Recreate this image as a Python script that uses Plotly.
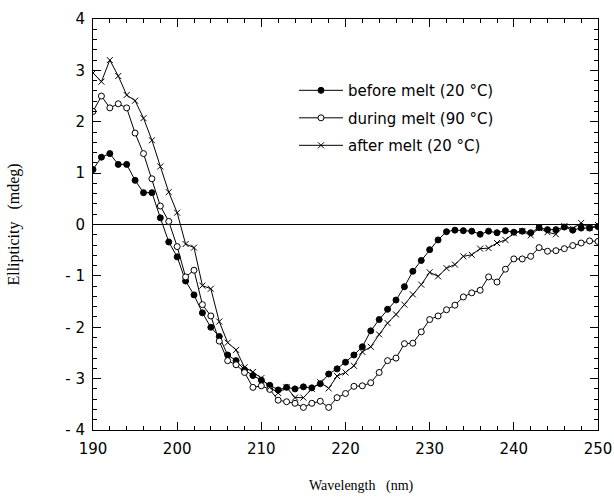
import plotly.graph_objects as go

wavelength = list(range(190, 251))

before_melt = [1.07, 1.31, 1.38, 1.17, 1.17, 0.86, 0.62, 0.62, 0.13, -0.34,
               -0.63, -1.10, -1.37, -1.72, -2.00, -2.18, -2.54, -2.65, -2.83, -2.94,
               -3.03, -3.13, -3.22, -3.17, -3.20, -3.16, -3.18, -3.10, -2.91, -2.81,
               -2.68, -2.54, -2.38, -2.07, -1.85, -1.65, -1.47, -1.21, -0.91, -0.70,
               -0.49, -0.30, -0.14, -0.11, -0.12, -0.13, -0.19, -0.13, -0.16, -0.12,
               -0.15, -0.13, -0.16, -0.06, -0.10, -0.10, -0.05, -0.11, -0.07, -0.07,
               -0.04]

during_melt = [2.20, 2.50, 2.27, 2.35, 2.27, 1.78, 1.38, 0.89, 0.36, 0.06,
               -0.43, -1.02, -0.89, -1.56, -1.78, -2.27, -2.65, -2.73, -2.88, -3.17,
               -3.14, -3.21, -3.42, -3.45, -3.48, -3.56, -3.48, -3.44, -3.56, -3.37,
               -3.29, -3.15, -3.14, -3.08, -2.88, -2.65, -2.60, -2.32, -2.31, -2.09,
               -1.85, -1.78, -1.66, -1.57, -1.41, -1.33, -1.28, -1.02, -1.12, -0.87,
               -0.67, -0.67, -0.62, -0.45, -0.52, -0.51, -0.47, -0.41, -0.36, -0.32,
               -0.33]

after_melt = [2.95, 2.78, 3.20, 2.89, 2.52, 2.41, 2.07, 1.64, 1.13, 0.63,
              0.23, -0.38, -0.45, -1.19, -1.25, -1.89, -2.30, -2.44, -2.78, -2.87,
              -2.99, -3.17, -3.28, -3.17, -3.37, -3.37, -3.20, -3.07, -3.19, -2.95,
              -2.88, -2.75, -2.48, -2.38, -2.14, -1.92, -1.75, -1.56, -1.36, -1.17,
              -0.93, -1.01, -0.85, -0.78, -0.62, -0.59, -0.47, -0.46, -0.36, -0.30,
              -0.17, -0.13, -0.21, -0.07, -0.15, -0.19, -0.03, -0.08, 0.03, -0.07,
              -0.01]

series_names = ["before melt (20 °C)", "during melt (90 °C)", "after melt (20 °C)"]

x_ticks = [190, 200, 210, 220, 230, 240, 250]
y_ticks = [4, 3, 2, 1, 0, -1, -2, -3, -4]
y_ticklabels = ["4", "3", "2", "1", "0", "- 1", "- 2", "- 3", "- 4"]

x_title = "Wavelength\u00a0\u00a0\u00a0(nm)"
y_title = "Ellipticity\u00a0\u00a0\u00a0(mdeg)"

sans = "DejaVu Sans, Verdana, sans-serif"
serif = "Liberation Serif, Times New Roman, serif"

fig = go.Figure()
fig.add_trace(go.Scatter(
    x=wavelength, y=before_melt, name=series_names[0], mode="lines+markers",
    legendgroup="a",
    line=dict(color="black", width=1),
    marker=dict(symbol="circle", size=6, color="black", line=dict(color="black", width=1)),
))
fig.add_trace(go.Scatter(
    x=wavelength, y=during_melt, name=series_names[1], mode="lines+markers",
    legendgroup="b",
    line=dict(color="black", width=1),
    marker=dict(symbol="circle", size=6, color="white", line=dict(color="black", width=1)),
))
fig.add_trace(go.Scatter(
    x=wavelength, y=after_melt, name=series_names[2], mode="lines+markers",
    legendgroup="c",
    line=dict(color="black", width=1),
    marker=dict(symbol="x-thin-open", size=6, color="black", line=dict(color="black", width=1)),
))

fig.update_layout(
    width=614, height=498,
    margin=dict(l=93, r=16, t=19, b=68),
    paper_bgcolor="white", plot_bgcolor="white",
    showlegend=True,
    legend=dict(x=0.398, y=0.866, xanchor="left", yanchor="top",
                bgcolor="rgba(0,0,0,0)", font=dict(family=sans, size=15, color="black"),
                itemwidth=44, tracegroupgap=5),
    font=dict(family=sans, color="black"),
    annotations=[dict(text=x_title, xref="paper", yref="paper", x=0.532, y=0,
                      xanchor="center", yanchor="top", yshift=-46, showarrow=False,
                      font=dict(family=serif, size=14, color="black"))],
)
fig.update_xaxes(
    range=[190, 250], tickvals=x_ticks, ticks="inside", ticklen=8, tickwidth=1,
    tickcolor="black", showline=True, linecolor="black", linewidth=1, mirror="allticks",
    showgrid=False, zeroline=False, automargin=False, ticklabelstandoff=5,
    tickfont=dict(family=sans, size=15, color="black"),
    minor=dict(dtick=2, ticks="inside", ticklen=4, tickcolor="black", showgrid=False),
)
fig.update_yaxes(
    range=[-4, 4], tickvals=y_ticks, ticktext=y_ticklabels, ticks="inside", ticklen=8, tickwidth=1,
    tickcolor="black", showline=True, linecolor="black", linewidth=1, mirror="allticks",
    showgrid=False, zeroline=True, zerolinecolor="black", zerolinewidth=1, automargin=False,
    ticklabelstandoff=4,
    tickfont=dict(family=sans, size=15, color="black"),
    minor=dict(dtick=0.2, ticks="inside", ticklen=4, tickcolor="black", showgrid=False),
    title=dict(text=y_title, font=dict(family=serif, size=16, color="black"), standoff=41),
)

fig.write_html("out.html", config={"displayModeBar": False},
               post_script="document.body.style.margin='0px';")
